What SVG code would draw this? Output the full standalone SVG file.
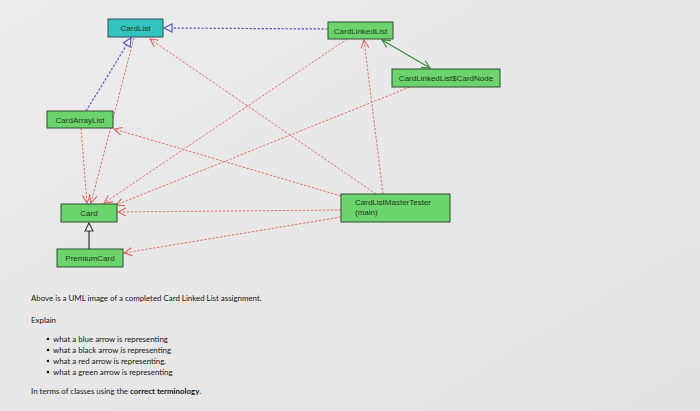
<svg xmlns="http://www.w3.org/2000/svg" width="700" height="411" viewBox="0 0 700 411">
<defs>
<linearGradient id="bg" x1="0" y1="0" x2="1" y2="1">
<stop offset="0" stop-color="#ececec"/>
<stop offset="1" stop-color="#e2e2e2"/>
</linearGradient>
<marker id="tri" markerWidth="10" markerHeight="10" refX="9" refY="5" orient="auto" markerUnits="userSpaceOnUse">
<path d="M1,1 L9,5 L1,9 Z" fill="#eeeeee" stroke="#5a5ac0" stroke-width="1.2"/>
</marker>
<marker id="triK" markerWidth="10" markerHeight="10" refX="9" refY="5" orient="auto" markerUnits="userSpaceOnUse">
<path d="M1,1 L9,5 L1,9 Z" fill="#eeeeee" stroke="#333" stroke-width="1.1"/>
</marker>
<marker id="open" markerWidth="10" markerHeight="10" refX="9" refY="5" orient="auto" markerUnits="userSpaceOnUse">
<path d="M1,1 L9,5 L1,9" fill="none" stroke="#e06060" stroke-width="1.1"/>
</marker>
<marker id="openG" markerWidth="10" markerHeight="10" refX="9" refY="5" orient="auto" markerUnits="userSpaceOnUse">
<path d="M1,1 L9,5 L1,9" fill="none" stroke="#3a8a3a" stroke-width="1.2"/>
</marker>
<marker id="openGs" markerWidth="10" markerHeight="10" refX="1" refY="5" orient="auto" markerUnits="userSpaceOnUse">
<path d="M9,1 L1,5 L9,9" fill="none" stroke="#3a8a3a" stroke-width="1.2"/>
</marker>
</defs>
<style>
.box{fill:#6dd36d;stroke:#2f4f2f;stroke-width:1}
.teal{fill:#33c4bf;stroke:#2f4f4f;stroke-width:1}
.lbl{font-family:"Liberation Sans",Arial,sans-serif;font-size:8px;fill:#1a3a1a}
.red{stroke:#e07070;stroke-width:1;stroke-dasharray:2.5,1.5;fill:none;marker-end:url(#open)}
.blue{stroke:#5a5ac0;stroke-width:1.2;stroke-dasharray:2.5,1.5;fill:none;marker-end:url(#tri)}
.txt{font-family:Lato,"Open Sans",sans-serif;font-size:7.9px;fill:#151515}
</style>
<rect width="700" height="411" fill="url(#bg)"/>
<g id="connectors">
<line class="blue" x1="328" y1="29" x2="164" y2="28"/>
<line class="blue" x1="86" y1="111" x2="131" y2="38"/>
<line x1="89" y1="249" x2="89" y2="223" stroke="#333" stroke-width="1.2" marker-end="url(#triK)"/>
<line x1="382" y1="40" x2="430" y2="68" stroke="#3a8a3a" stroke-width="1.3" marker-start="url(#openGs)" marker-end="url(#openG)"/>
<line class="red" x1="134" y1="38" x2="91" y2="203"/>
<line class="red" x1="81" y1="128" x2="87" y2="203"/>
<line class="red" x1="376" y1="194" x2="150" y2="39"/>
<line class="red" x1="347" y1="39" x2="104" y2="203"/>
<line class="red" x1="410" y1="87" x2="116" y2="205"/>
<line class="red" x1="341" y1="196" x2="114" y2="129"/>
<line class="red" x1="383" y1="194" x2="364" y2="40"/>
<line class="red" x1="341" y1="210" x2="118" y2="212"/>
<line class="red" x1="341" y1="217" x2="124" y2="253"/>
</g>
<g id="CardList"><rect class="teal" x="108" y="19" width="55" height="18"/><text class="lbl" x="135.5" y="31" text-anchor="middle">CardList</text></g>
<g id="CardLinkedList"><rect class="box" x="328" y="22" width="65" height="17"/><text class="lbl" x="360.5" y="33.5" text-anchor="middle">CardLinkedList</text></g>
<g id="CardNode"><rect class="box" x="392" y="69" width="108" height="18"/><text class="lbl" x="446" y="81" text-anchor="middle">CardLinkedList$CardNode</text></g>
<g id="CardArrayList"><rect class="box" x="47" y="111" width="66" height="17"/><text class="lbl" x="80" y="122.5" text-anchor="middle">CardArrayList</text></g>
<g id="Card"><rect class="box" x="61" y="204" width="56" height="18"/><text class="lbl" x="89" y="216" text-anchor="middle">Card</text></g>
<g id="PremiumCard"><rect class="box" x="57" y="249" width="66" height="18"/><text class="lbl" x="90" y="261" text-anchor="middle">PremiumCard</text></g>
<g id="CardListMasterTester"><rect class="box" x="341" y="194" width="109" height="28"/><text class="lbl" x="355" y="205">CardListMasterTester</text><text class="lbl" x="355" y="215">(main)</text></g>
<g id="question">
<text class="txt" x="31" y="301">Above is a UML image of a completed Card Linked List assignment.</text>
<text class="txt" x="31" y="323">Explain</text>
<circle cx="48" cy="339" r="1.3" fill="#151515"/><text class="txt" x="53" y="341.5">what a blue arrow is representing</text>
<circle cx="48" cy="350" r="1.3" fill="#151515"/><text class="txt" x="53" y="352.5">what a black arrow is representing</text>
<circle cx="48" cy="361" r="1.3" fill="#151515"/><text class="txt" x="53" y="363.5">what a red arrow is representing.</text>
<circle cx="48" cy="372" r="1.3" fill="#151515"/><text class="txt" x="53" y="374.5">what a green arrow is representing</text>
<text class="txt" x="31" y="394">In terms of classes using the <tspan font-weight="bold">correct terminology</tspan>.</text>
</g>
</svg>
